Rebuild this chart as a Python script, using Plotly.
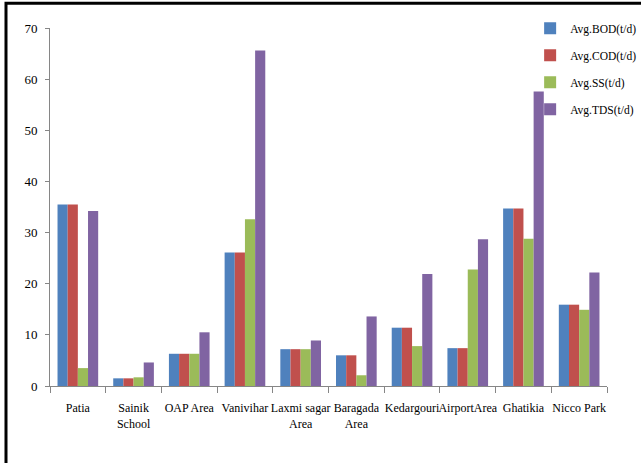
import plotly.graph_objects as go

categories = ["Patia", "Sainik<br>School", "OAP Area", "Vanivihar", "Laxmi sagar<br>Area",
              "Baragada<br>Area", "Kedargouri", "AirportArea", "Ghatikia", "Nicco Park"]
bod = [35.5, 1.5, 6.3, 26.1, 7.2, 6.0, 11.4, 7.4, 34.7, 15.9]
cod = [35.5, 1.5, 6.3, 26.1, 7.2, 6.0, 11.4, 7.4, 34.7, 15.9]
ss = [3.5, 1.7, 6.3, 32.6, 7.2, 2.1, 7.8, 22.8, 28.8, 14.9]
tds = [34.2, 4.6, 10.5, 65.6, 8.9, 13.6, 21.9, 28.7, 57.6, 22.2]
series_names = ["Avg.BOD(t/d)", "Avg.COD(t/d)", "Avg.SS(t/d)", "Avg.TDS(t/d)"]
colors = ["#4F81BD", "#C0504D", "#9BBB59", "#8064A2"]

fig = go.Figure()
for i, (name, vals) in enumerate(zip(series_names, [bod, cod, ss, tds])):
    fig.add_trace(go.Bar(x=categories, y=vals, name=name, marker_color=colors[i],
                         marker_line_width=0, legendgroup=f"g{i}"))

font = "Liberation Serif, Times New Roman, serif"
fig.update_layout(
    width=641, height=463,
    margin=dict(l=50, r=34, t=28, b=77, autoexpand=False),
    paper_bgcolor="white", plot_bgcolor="white",
    barmode="group", bargap=0.27, bargroupgap=0,
    font=dict(family=font, size=13, color="black"),
    legend=dict(x=0.862, y=1.04, xanchor="left", yanchor="top",
                font=dict(family=font, size=11.5, color="black"),
                traceorder="grouped", tracegroupgap=8,
                itemwidth=30, bgcolor="rgba(0,0,0,0)"),
    xaxis=dict(showline=True, linecolor="#868686", linewidth=1,
               ticks="outside", ticklen=6, tickcolor="#868686",
               tickson="boundaries", ticklabelstandoff=11, tickangle=0,
               automargin=False,
               tickfont=dict(family=font, size=12, color="black")),
    yaxis=dict(range=[0, 70], dtick=10, showline=True, linecolor="#868686", linewidth=1,
               ticks="outside", ticklen=4, tickcolor="#868686", showgrid=False,
               zeroline=False, ticklabelstandoff=5, automargin=False,
               tickfont=dict(family=font, size=13, color="black")),
    shapes=[dict(type="rect", xref="paper", yref="paper",
                 x0=-0.079, x1=1.2, y0=-0.4, y1=1.069,
                 line=dict(color="black", width=3), fillcolor="rgba(0,0,0,0)")],
)
fig.write_html("out.html", config={"displayModeBar": False},
               post_script="document.body.style.margin='0px';")
